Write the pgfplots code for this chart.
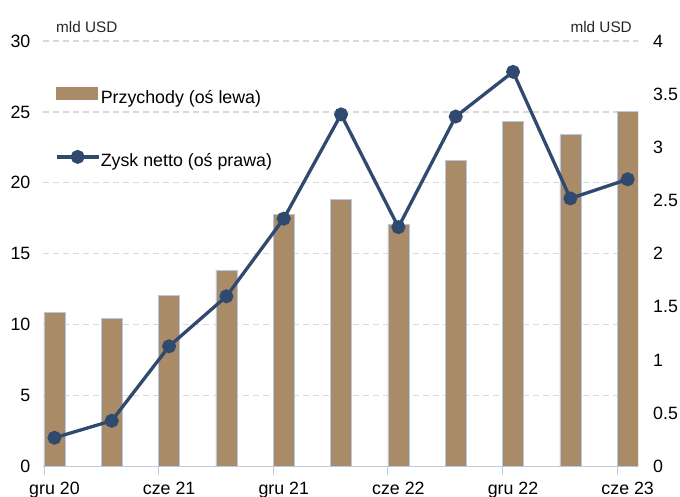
\documentclass[border=0pt]{standalone}
\usepackage{pgfplots}
\pgfplotsset{compat=1.18}
\usepackage{fontspec}
\setmainfont{Liberation Sans}
\definecolor{barcol}{HTML}{A98B68}
\definecolor{baredge}{HTML}{B4C7E7}
\definecolor{linecol}{HTML}{2F4A6E}
\definecolor{gridcol}{HTML}{D9D9D9}
\definecolor{axcol}{HTML}{BFCBDD}
\begin{document}
\begin{tikzpicture}
\pgfplotsset{
  common/.style={
    scale only axis,
    width=595bp, height=425.5bp,
    at={(43bp,30.5bp)}, anchor=south west,
    xmin=-0.2, xmax=10.18,
    /pgf/number format/assume math mode=true,
    tick label style={font=\fontsize{17.8bp}{21bp}\selectfont, inner sep=0pt},
    major tick length=0pt,
  }
}
\begin{axis}[common,
  ymin=0, ymax=30, ytick={0,5,...,30},
  axis x line*=bottom, axis y line*=left,
  y axis line style={draw=none},
  x axis line style={draw=axcol, line width=0.9bp},
  xtick={0,2,4,6,8,10},
  xticklabels={gru 20,cze 21,gru 21,cze 22,gru 22,cze 23},
  xticklabel style={anchor=base, yshift=-27.5bp},
  extra x ticks={-0.183,1.817,3.817,5.817,7.817,9.817},
  extra x tick labels={},
  extra x tick style={major tick length=8bp, tick style={draw=axcol, line width=0.9bp}},
  yticklabel style={anchor=east, xshift=-12.5bp},
  ymajorgrids, grid style={gridcol, line width=1.3bp, dash pattern=on 6bp off 4bp},
  ybar, bar width=21bp,
]
\addplot[fill=barcol, draw=baredge, line width=0.7bp] coordinates {
(0,10.85) (1,10.45) (2,12.05) (3,13.85) (4,17.8) (5,18.86) (6,17.05) (7,21.55) (8,24.35) (9,23.4) (10,25.05)};
\end{axis}
\begin{axis}[common,
  clip=false,
  ymin=0, ymax=4, ytick={0,0.5,...,4},
  yticklabels={0,0.5,1,1.5,2,2.5,3,3.5,4},
  axis y line*=right, axis x line=none,
  y axis line style={draw=none},
  yticklabel style={anchor=west, xshift=15bp},
  xtick=\empty,
  legend style={at={(rel axis cs:0.0202,0.893)}, anchor=north west, draw=none, fill=none,
    inner sep=0pt, outer sep=0pt, row sep=44.7bp, column sep=0.5bp,
    font=\fontsize{17.8bp}{21bp}\selectfont,
    nodes={inner sep=0pt, text height=12.7bp, text depth=3.6bp}},
  legend cell align=left,
]
\addlegendimage{legend image code/.code={\fill[barcol] (0bp,0bp) rectangle (41bp,12bp);}}
\addlegendentry{Przychody (oś lewa)}
\addlegendimage{legend image code/.code={\draw[linecol, line width=3.3bp, mark=*, mark size=5.3bp, mark repeat=2, mark phase=2] plot coordinates {(0bp,5.5bp) (21bp,5.5bp) (42bp,5.5bp)};}}
\addlegendentry{Zysk netto (oś prawa)}
\addplot[linecol, line width=3.3bp, mark=*, mark size=5.3bp, forget plot]
coordinates {
(0,0.27) (1,0.43) (2,1.13) (3,1.60) (4,2.33) (5,3.31) (6,2.25) (7,3.29) (8,3.71) (9,2.52) (10,2.70)};
\node[anchor=base west, inner sep=0pt, font=\fontsize{15.3bp}{18bp}\selectfont, text=black!85] at (rel axis cs:0.0218,1) [yshift=8bp] {mld USD};
\node[anchor=base east, inner sep=0pt, font=\fontsize{15.3bp}{18bp}\selectfont, text=black!85] at (rel axis cs:0.9899,1) [yshift=8bp] {mld USD};
\end{axis}
\pgfresetboundingbox
\useasboundingbox (0,0) rectangle (680bp,497bp);
\end{tikzpicture}
\end{document}
